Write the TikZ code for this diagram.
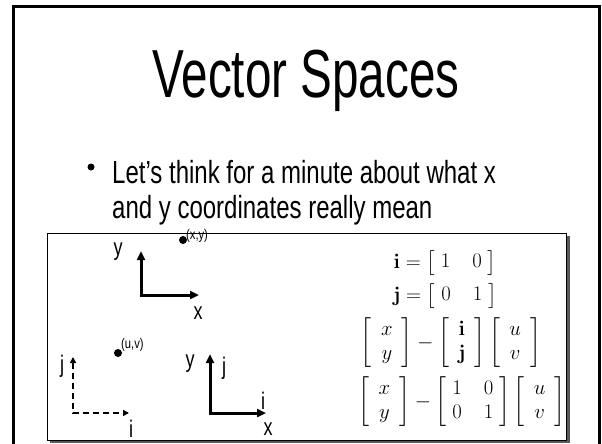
\documentclass[tikz,border=0pt]{standalone}
\usepackage[no-math]{fontspec}
\setmainfont{Liberation Sans}
\usepackage{amsmath}
\usepackage{tikz}
\usetikzlibrary{arrows.meta}

\newcommand{\sqz}[2]{\scalebox{#1}[1]{#2}}
\newcommand{\mbig}{\fontsize{20}{24}\selectfont\setlength{\arraycolsep}{11pt}}

\tikzset{
  axis/.style={line width=3pt, {Triangle[length=9pt,width=8pt]}-{Triangle[length=9pt,width=8pt]}},
  dashaxis/.style={line width=2pt, dash pattern=on 6pt off 4pt, {Triangle[length=6pt,width=6pt]}-{Triangle[length=6pt,width=6pt]}},
  dot/.style={circle, fill=black, inner sep=0pt, minimum size=8pt},
  lbl/.style={inner sep=0pt, font=\fontsize{24}{24}\selectfont},
  small/.style={inner sep=0pt, font=\fontsize{14}{14}\selectfont},
  mat/.style={inner sep=0pt}
}

\begin{document}
\begin{tikzpicture}[x=1pt,y=-1pt]
\useasboundingbox (0,0) rectangle (602,444);

% slide frame
\draw[line width=3pt] (13,444) -- (13,7) -- (599,7) -- (599,444);

% title and bullet
\node[anchor=base, inner sep=0pt] (title) at (306,97) {\sqz{0.7}{\fontsize{68}{68}\selectfont Vector Spaces}};
\node[circle, fill=black, inner sep=0pt, minimum size=7pt] (bul) at (91,167) {};
\node[anchor=base west, inner sep=0pt] (line1) at (112,183) {\sqz{0.75}{\fontsize{32}{32}\selectfont Let’s think for a minute about what x}};
\node[anchor=base west, inner sep=0pt] (line2) at (112,218) {\sqz{0.75}{\fontsize{32}{32}\selectfont and y coordinates really mean}};

% picture box with shadow
\fill[black!65] (50,236) rectangle (570,443);
\draw[fill=white, line width=0.8pt] (47,233) rectangle (566,440);

% x,y axes
\coordinate (o1) at (141,295);
\coordinate (y1) at (141,251);
\coordinate (x1) at (199,295);
\draw[axis] (y1) -- (o1) -- (x1);
\node[lbl] (ly1) at (118,252) {\sqz{0.75}{y}};
\node[lbl] (lx1) at (198,313) {\sqz{0.75}{x}};
\node[dot] (pxy) at (183,240) {};
\node[small, anchor=south west] (lxy) at (186,243) {\sqz{0.8}{(x,y)}};

% i,j axes (dashed)
\coordinate (o2) at (73,413);
\coordinate (j2) at (73,357);
\coordinate (i2) at (129,413);
\draw[dashaxis] (j2) -- (o2) -- (i2);
\node[lbl] (lj2) at (62,366) {\sqz{0.75}{j}};
\node[lbl] (li2) at (131,429) {\sqz{0.75}{i}};
\node[dot] (puv) at (118,353) {};
\node[small, anchor=south west] (luv) at (121,352) {\sqz{0.8}{(u,v)}};

% both together
\coordinate (o3) at (210,413);
\coordinate (y3) at (210,354);
\coordinate (x3) at (266,413);
\draw[axis] (y3) -- (o3) -- (x3);
\node[lbl] (ly3) at (190,364) {\sqz{0.75}{y}};
\node[lbl] (lj3) at (224,368) {\sqz{0.75}{j}};
\node[lbl] (li3) at (263,401) {\sqz{0.75}{i}};
\node[lbl] (lx3) at (268,429) {\sqz{0.75}{x}};

% equations
\node[mat] (eqi) at (445,263) {\mbig $\mathbf{i} = \begin{bmatrix}\; 1 & 0 \;\end{bmatrix}$};
\node[mat] (eqj) at (445,296) {\mbig $\mathbf{j} = \begin{bmatrix}\; 0 & 1 \;\end{bmatrix}$};
\node[mat] (eqij) at (451,343) {\mbig $\begin{bmatrix}\;\, x \;\,\\\;\, y \;\,\end{bmatrix} - \begin{bmatrix}\;\, \mathbf{i} \;\,\\\;\, \mathbf{j} \;\,\end{bmatrix} \begin{bmatrix}\;\, u \;\,\\\;\, v \;\,\end{bmatrix}$};
\node[mat] (eqm) at (462,402) {\mbig $\begin{bmatrix}\;\, x \;\,\\\;\, y \;\,\end{bmatrix} - \begin{bmatrix}\; 1 & 0 \;\\\; 0 & 1 \;\end{bmatrix} \begin{bmatrix}\;\, u \;\,\\\;\, v \;\,\end{bmatrix}$};
\end{tikzpicture}
\end{document}
